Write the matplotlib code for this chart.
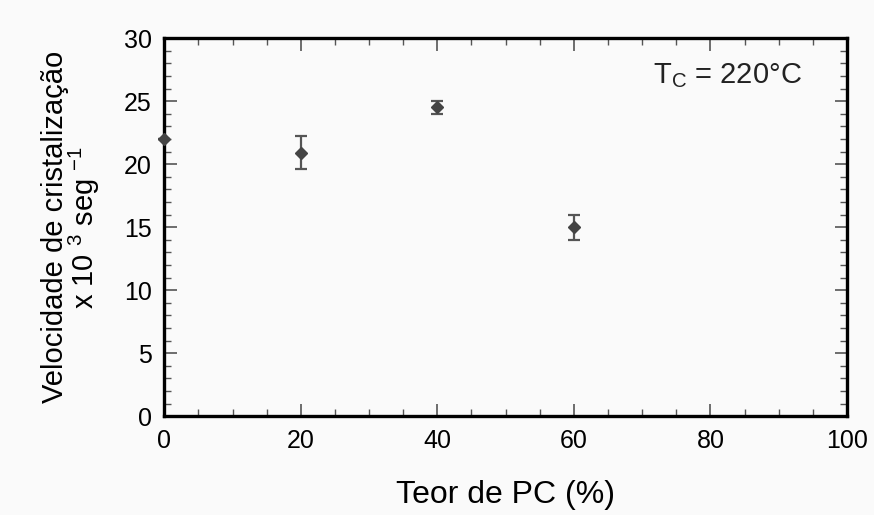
import matplotlib
matplotlib.use("Agg")
import matplotlib.pyplot as plt
from matplotlib.ticker import MultipleLocator

plt.rcParams['font.family'] = ['Liberation Sans', 'DejaVu Sans']
plt.rcParams['mathtext.fontset'] = 'custom'
plt.rcParams['mathtext.rm'] = 'Liberation Sans'

# data
teor_pc = [0, 20, 40, 60]
velocidade = [22.0, 20.9, 24.5, 15.0]
erro = [0.0, 1.3, 0.5, 1.0]

fig = plt.figure(figsize=(8.74, 5.15), dpi=100, facecolor='#fafafa')
ax = fig.add_axes([0.188, 0.192, 0.781, 0.734])
ax.set_facecolor('#fafafa')

ax.errorbar(teor_pc, velocidade, yerr=erro, fmt='D', color='#444444',
            ecolor='#555555', markersize=6, elinewidth=1.6, capsize=4,
            capthick=1.6, clip_on=False, zorder=3)

ax.set_xlim(0, 100)
ax.set_ylim(0, 30)
ax.xaxis.set_major_locator(MultipleLocator(20))
ax.xaxis.set_minor_locator(MultipleLocator(5))
ax.yaxis.set_major_locator(MultipleLocator(5))
ax.yaxis.set_minor_locator(MultipleLocator(1))

for s in ax.spines.values():
    s.set_linewidth(2.4)
    s.set_color('black')

ax.tick_params(which='both', direction='in', top=True, right=True, color='#555555')
ax.tick_params(which='major', length=9, width=1.2, labelsize=18, pad=9)
ax.tick_params(which='minor', length=5, width=1.0)

ax.set_xlabel('Teor de PC (%)', fontsize=23, labelpad=20)
ax.set_ylabel('Velocidade de cristalização\n' + r'x 10 $^{3}$ seg $^{-1}$',
              fontsize=21, labelpad=16, linespacing=0.9)

ax.text(0.934, 0.9, r'T$_{\mathrm{C}}$ = 220°C', transform=ax.transAxes,
        fontsize=21, ha='right', va='center', color='#222222')

fig.savefig('out.png', dpi=100, facecolor=fig.get_facecolor())
